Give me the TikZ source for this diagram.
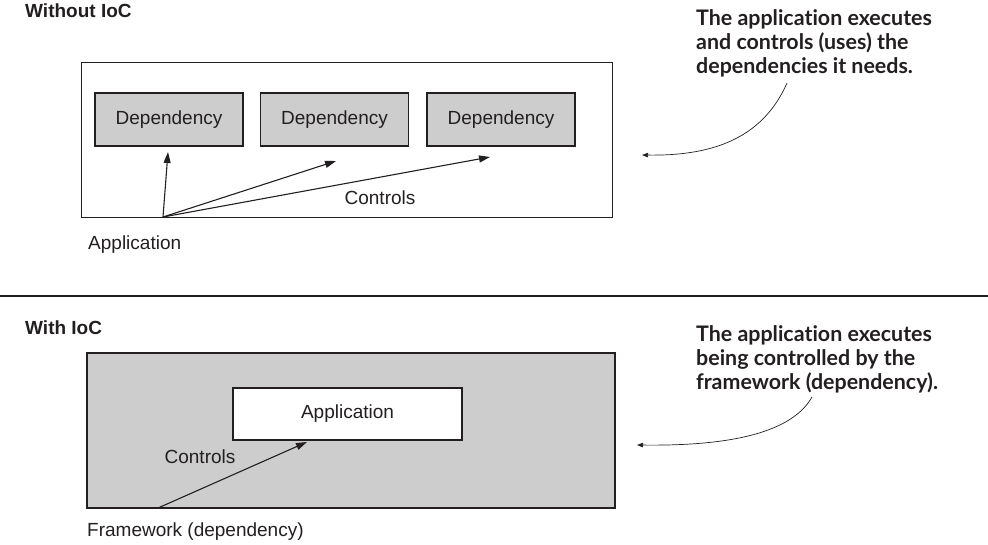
\documentclass[tikz,border=0pt]{standalone}
\usepackage{fontspec}
\setmainfont{Liberation Sans}
\newfontfamily\notefont[Ligatures={NoCommon,NoDiscretionary}]{Lato}
\usetikzlibrary{arrows.meta}
\definecolor{ink}{HTML}{231F20}
\definecolor{boxgray}{HTML}{CDCDCD}
\tikzset{
  lbl/.style={font=\fontsize{19}{23}\selectfont, text=ink, inner sep=0pt},
  head/.style={font=\fontsize{19}{23}\selectfont\bfseries, text=ink, inner sep=0pt, anchor=west},
  note/.style={font=\notefont\fontsize{21.4}{24}\selectfont\bfseries, text=ink, inner sep=0pt, anchor=north west, align=left},
  frame/.style={draw=ink, line width=1.3pt, inner sep=0pt, font=\fontsize{19}{23}\selectfont, text=ink},
  depbox/.style={frame, fill=boxgray, minimum width=148pt, minimum height=53pt},
  ctrl/.style={draw=ink, line width=1.1pt, -{Triangle[length=11pt,width=7pt]}},
  callout/.style={draw=ink, line width=0.7pt, -{Triangle[length=6pt,width=4.5pt]}},
}
\begin{document}
\begin{tikzpicture}[x=1pt,y=-1pt]
\useasboundingbox (0,0) rectangle (988,545);
% ---------- Without IoC ----------
\node[head] (h1) at (25,11) {Without IoC};
\node[frame, minimum width=531pt, minimum height=155pt] (outer) at (347,140) {};
\node[depbox] (d1) at (169,119.5) {Dependency};
\node[depbox] (d2) at (334.5,119.5) {Dependency};
\node[depbox] (d3) at (501,119.5) {Dependency};
\node[lbl] (c1) at (380,198) {Controls};
\node[lbl, anchor=west] (app1) at (88,245) {Application};
\coordinate (o1) at (163,217);
\coordinate (t1) at (168,152);
\coordinate (t2) at (336,161);
\coordinate (t3) at (490,157);
\draw[ctrl] (o1) -- (t1);
\draw[ctrl] (o1) -- (t2);
\draw[ctrl] (o1) -- (t3);
\node[note] (n1) at (696,9) {The application executes\\and controls (uses) the\\dependencies it needs.};
\coordinate (s1) at (787,83);
\coordinate (e1) at (642,155);
\draw[callout] (s1) .. controls (762,140) and (710,156) .. (e1);
% ---------- divider ----------
\coordinate (dl) at (0,296);
\coordinate (dr) at (988,296);
\draw[draw=ink, line width=1.2pt] (dl) -- (dr);
% ---------- With IoC ----------
\node[head] (h2) at (25,328) {With IoC};
\node[frame, fill=boxgray, minimum width=528pt, minimum height=155pt] (fw) at (351,430.5) {};
\node[frame, fill=white, minimum width=229pt, minimum height=52pt] (app2) at (347.5,414) {Application};
\node[lbl] (c2) at (200,457) {Controls};
\node[lbl, anchor=west] (fwl) at (87,532) {Framework (dependency)};
\coordinate (o2) at (158,508);
\coordinate (t4) at (307,442);
\draw[ctrl] (o2) -- (t4);
\node[note] (n2) at (696,325) {The application executes\\being controlled by the\\framework (dependency).};
\coordinate (s2) at (812,397);
\coordinate (e2) at (637,445);
\draw[callout] (s2) .. controls (790,436) and (720,446) .. (e2);
\end{tikzpicture}
\end{document}
